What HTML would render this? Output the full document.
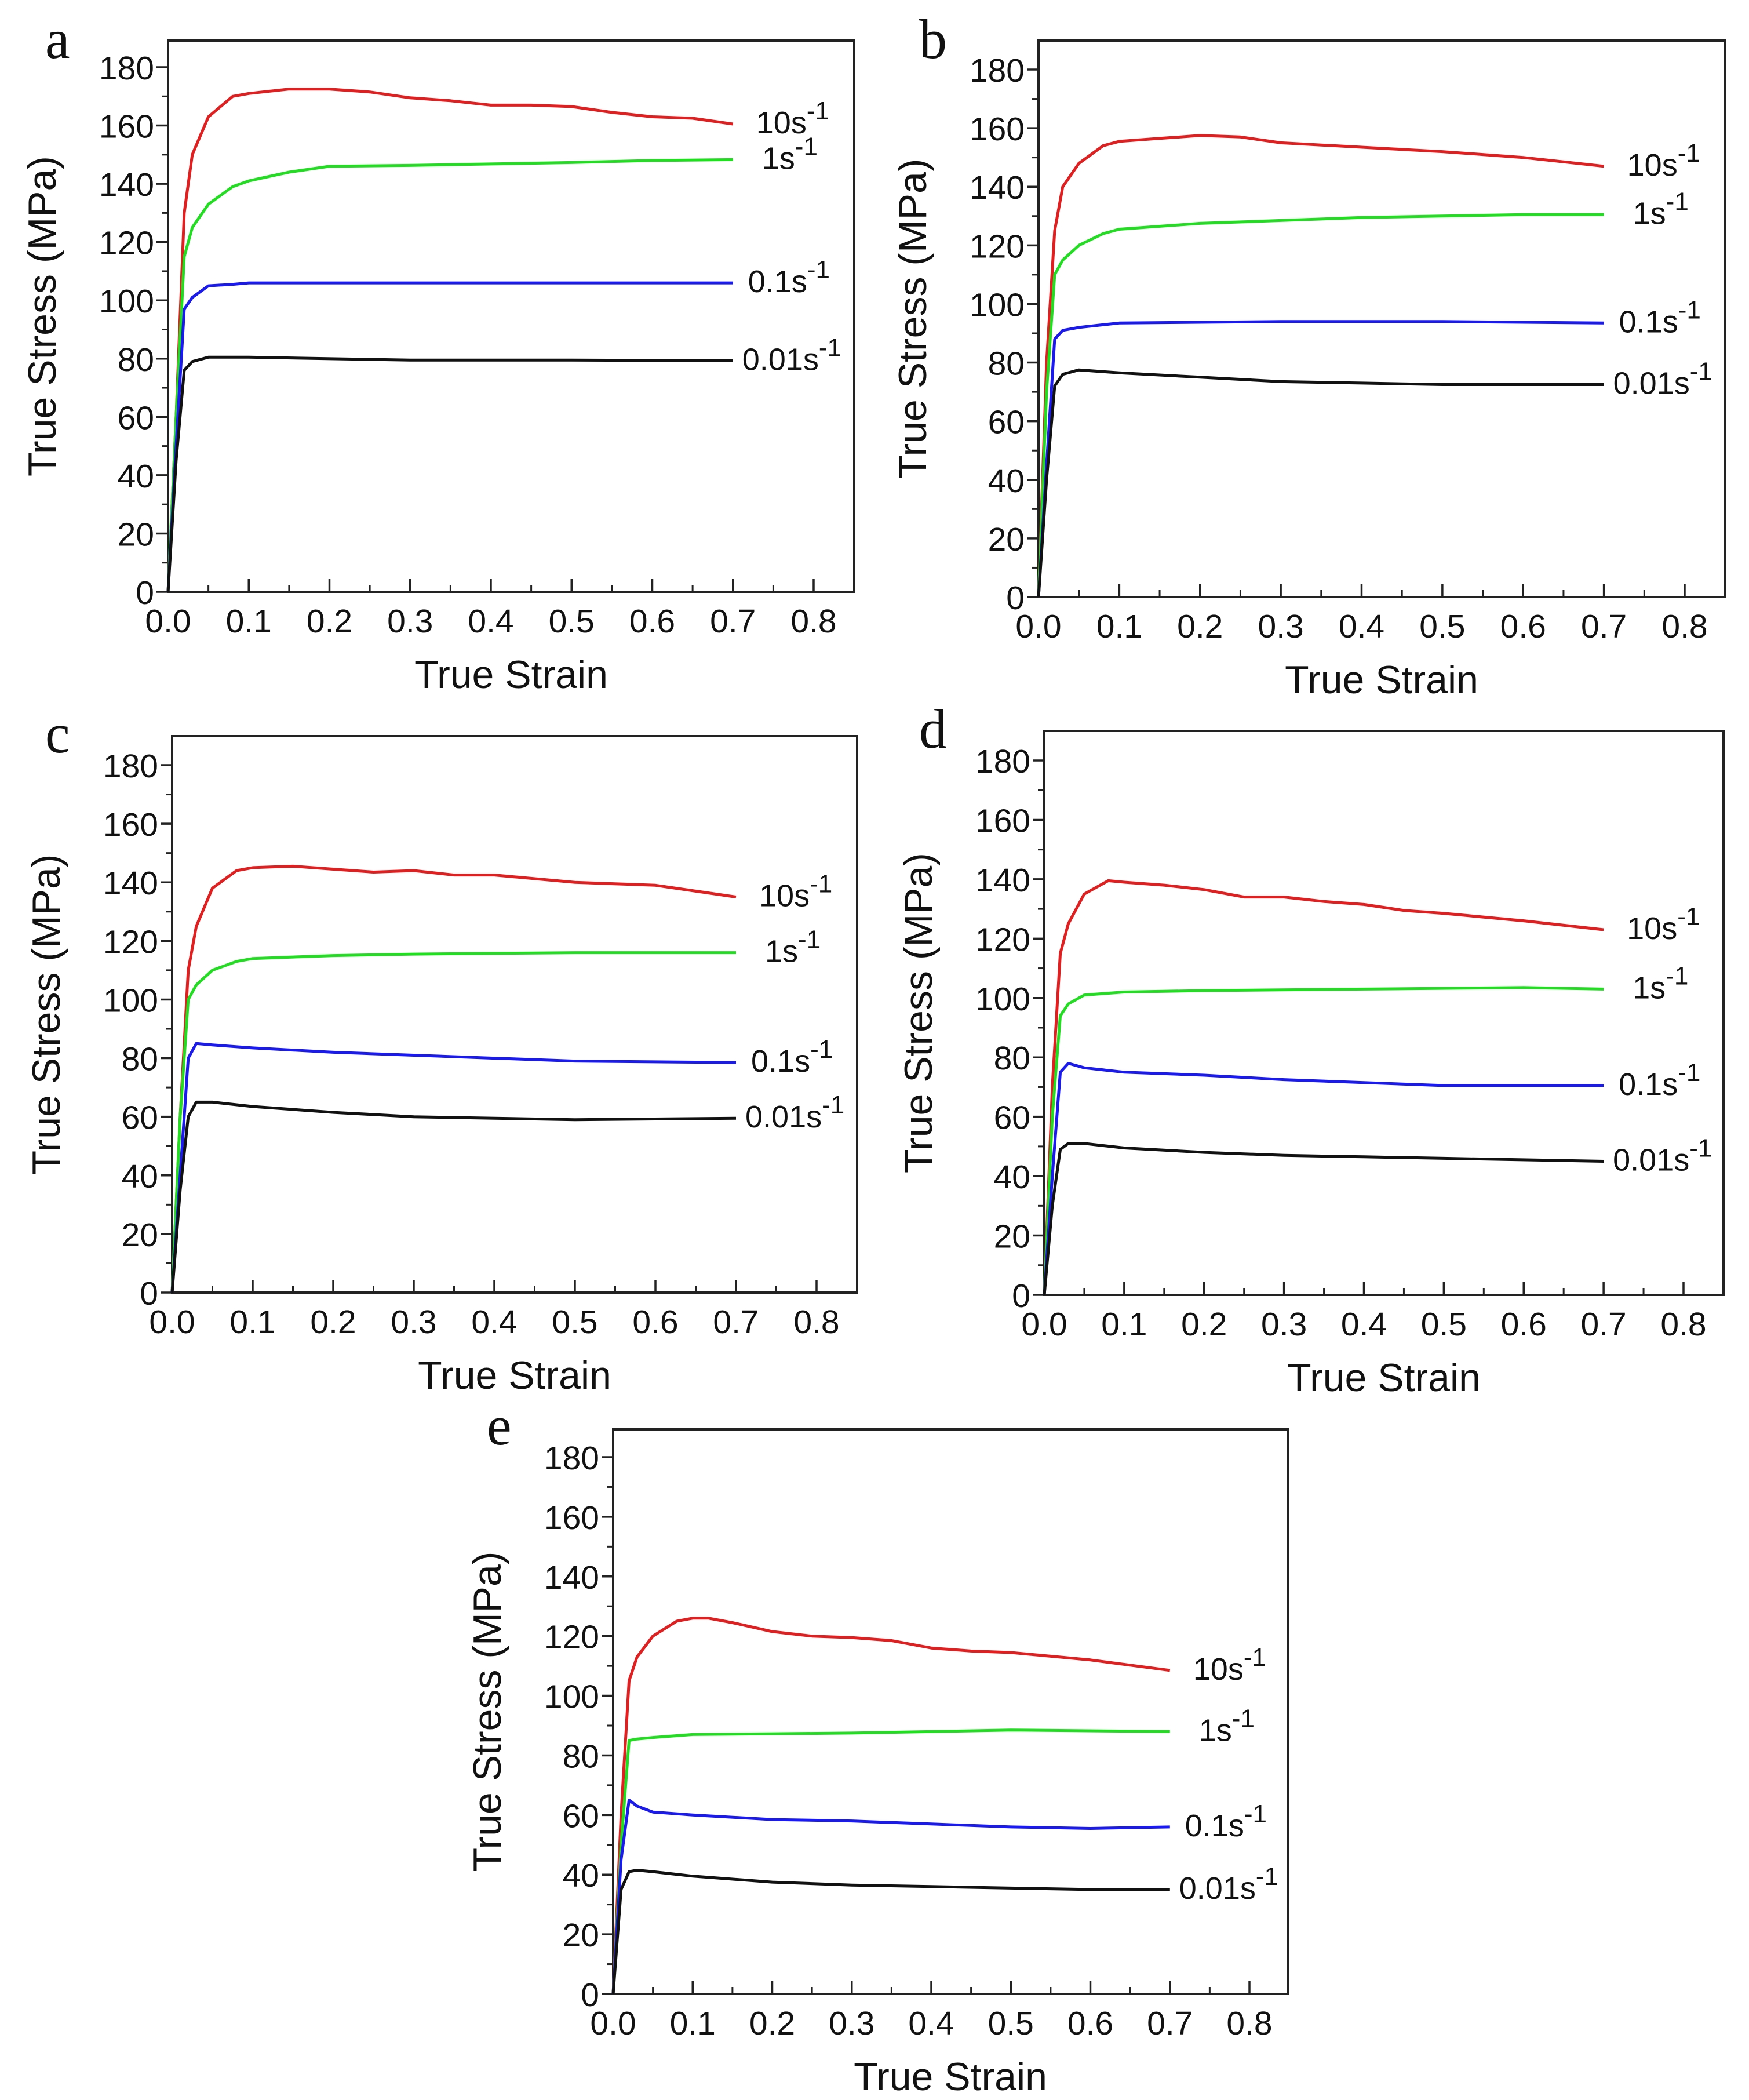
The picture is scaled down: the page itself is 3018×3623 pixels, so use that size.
<!DOCTYPE html>
<html><head><meta charset="utf-8"><title>True stress vs true strain at five deformation conditions</title>
<style>
html,body{margin:0;padding:0;background:#fff;}
svg{display:block;}
text{font-family:"Liberation Sans",Arial,sans-serif;fill:#111;}
.letter{font-family:"Liberation Serif","Times New Roman",serif;}
</style></head>
<body>
<svg id="fig" xmlns="http://www.w3.org/2000/svg" width="3018" height="3623" viewBox="0 0 3018 3623"></svg>
<script>
// ---- data ----
const rates = ["10", "1", "0.1", "0.01"];
const rateColors = ["#e02020", "#22dd22", "#1a1aee", "#111111"];
const xTicks = [0, 0.1, 0.2, 0.3, 0.4, 0.5, 0.6, 0.7, 0.8];
const xTickLabels = ["0.0","0.1","0.2","0.3","0.4","0.5","0.6","0.7","0.8"];
const yTicks = [0, 20, 40, 60, 80, 100, 120, 140, 160, 180];
const yTickLabels = ["0","20","40","60","80","100","120","140","160","180"];
const panelLetters = ["a","b","c","d","e"];

// panel a
const aStrain10 = [0,0.01,0.02,0.03,0.05,0.08,0.1,0.15,0.2,0.25,0.3,0.35,0.4,0.45,0.5,0.55,0.6,0.65,0.7];
const aStress10 = [0,60,130,150,163,170,171,172.5,172.5,171.5,169.5,168.5,167,167,166.5,164.5,163,162.5,160.5];
const aStrain1 = [0,0.01,0.02,0.03,0.05,0.08,0.1,0.15,0.2,0.3,0.4,0.5,0.6,0.7];
const aStress1 = [0,60,115,125,133,139,141,144,146,146.3,146.8,147.3,148,148.3];
const aStrain01 = [0,0.01,0.02,0.03,0.05,0.08,0.1,0.3,0.5,0.7];
const aStress01 = [0,50,97,101,105,105.5,106,106,106,106];
const aStrain001 = [0,0.01,0.02,0.03,0.05,0.1,0.3,0.5,0.7];
const aStress001 = [0,45,76,79,80.5,80.5,79.5,79.5,79.3];
// panel b
const bStrain10 = [0,0.01,0.02,0.03,0.05,0.08,0.1,0.15,0.2,0.25,0.3,0.4,0.5,0.6,0.7];
const bStress10 = [0,80,125,140,148,154,155.5,156.5,157.5,157,155,153.5,152,150,147];
const bStrain1 = [0,0.01,0.02,0.03,0.05,0.08,0.1,0.2,0.3,0.4,0.5,0.6,0.7];
const bStress1 = [0,70,110,115,120,124,125.5,127.5,128.5,129.5,130,130.5,130.5];
const bStrain01 = [0,0.01,0.02,0.03,0.05,0.1,0.3,0.5,0.7];
const bStress01 = [0,45,88,91,92,93.5,94,94,93.5];
const bStrain001 = [0,0.01,0.02,0.03,0.05,0.1,0.2,0.3,0.4,0.5,0.7];
const bStress001 = [0,40,72,76,77.5,76.5,75,73.5,73,72.5,72.5];
// panel c
const cStrain10 = [0,0.01,0.02,0.03,0.05,0.08,0.1,0.15,0.2,0.25,0.3,0.35,0.4,0.5,0.6,0.7];
const cStress10 = [0,60,110,125,138,144,145,145.5,144.5,143.5,144,142.5,142.5,140,139,135];
const cStrain1 = [0,0.01,0.02,0.03,0.05,0.08,0.1,0.2,0.3,0.5,0.7];
const cStress1 = [0,60,100,105,110,113,114,115,115.5,116,116];
const cStrain01 = [0,0.01,0.02,0.03,0.05,0.1,0.2,0.3,0.4,0.5,0.7];
const cStress01 = [0,40,80,85,84.5,83.5,82,81,80,79,78.5];
const cStrain001 = [0,0.01,0.02,0.03,0.05,0.1,0.2,0.3,0.4,0.5,0.7];
const cStress001 = [0,35,60,65,65,63.5,61.5,60,59.5,59,59.5];
// panel d
const dStrain10 = [0,0.01,0.02,0.03,0.05,0.08,0.1,0.15,0.2,0.25,0.3,0.35,0.4,0.45,0.5,0.6,0.7];
const dStress10 = [0,70,115,125,135,139.5,139,138,136.5,134,134,132.5,131.5,129.5,128.5,126,123];
const dStrain1 = [0,0.01,0.02,0.03,0.05,0.1,0.2,0.4,0.6,0.7];
const dStress1 = [0,60,94,98,101,102,102.5,103,103.5,103];
const dStrain01 = [0,0.01,0.02,0.03,0.05,0.1,0.2,0.3,0.4,0.5,0.7];
const dStress01 = [0,40,75,78,76.5,75,74,72.5,71.5,70.5,70.5];
const dStrain001 = [0,0.01,0.02,0.03,0.05,0.1,0.2,0.3,0.4,0.5,0.7];
const dStress001 = [0,30,49,51,51,49.5,48,47,46.5,46,45];
// panel e
const eStrain10 = [0,0.01,0.02,0.03,0.05,0.08,0.1,0.12,0.15,0.2,0.25,0.3,0.35,0.4,0.45,0.5,0.6,0.7];
const eStress10 = [0,60,105,113,120,125,126,126,124.5,121.5,120,119.5,118.5,116,115,114.5,112,108.5];
const eStrain1 = [0,0.01,0.02,0.03,0.05,0.1,0.3,0.5,0.7];
const eStress1 = [0,50,85,85.5,86,87,87.5,88.5,88];
const eStrain01 = [0,0.01,0.02,0.03,0.05,0.1,0.2,0.3,0.4,0.5,0.6,0.7];
const eStress01 = [0,45,65,63,61,60,58.5,58,57,56,55.5,56];
const eStrain001 = [0,0.01,0.02,0.03,0.05,0.1,0.2,0.3,0.4,0.5,0.6,0.7];
const eStress001 = [0,35,41,41.5,41,39.5,37.5,36.5,36,35.5,35,35];

const panelSeries = [
  [[aStrain10,aStress10],[aStrain1,aStress1],[aStrain01,aStress01],[aStrain001,aStress001]],
  [[bStrain10,bStress10],[bStrain1,bStress1],[bStrain01,bStress01],[bStrain001,bStress001]],
  [[cStrain10,cStress10],[cStrain1,cStress1],[cStrain01,cStress01],[cStrain001,cStress001]],
  [[dStrain10,dStress10],[dStrain1,dStress1],[dStrain01,dStress01],[dStrain001,dStress001]],
  [[eStrain10,eStress10],[eStrain1,eStress1],[eStrain01,eStress01],[eStrain001,eStress001]]
];

// ---- layout ----
const layout = [
  {x0:290, x8:1404, y0:1021, y180:116, top:70, right:1474},
  {x0:1792, x8:2907, y0:1030, y180:120, top:70, right:2976},
  {x0:297, x8:1409, y0:2230, y180:1320, top:1270, right:1479},
  {x0:1802, x8:2905, y0:2234, y180:1312, top:1261, right:2974},
  {x0:1058, x8:2156, y0:3440, y180:2514, top:2466, right:2222}
];
const labelDx = [40, 50, 26, 16];
const letterPos = [[78,100],[1586,100],[78,1298],[1586,1290],[840,2492]];

const NS = "http://www.w3.org/2000/svg";
const svg = document.getElementById("fig");
function mk(tag, attrs, parent){
  const e = document.createElementNS(NS, tag);
  for (const k in attrs) e.setAttribute(k, attrs[k]);
  (parent||svg).appendChild(e);
  return e;
}

layout.forEach((L, p) => {
  const g = mk("g", {});
  
  
  const xs = v => L.x0 + (v/0.8)*(L.x8 - L.x0);
  const ys = v => L.y0 - (v/180)*(L.y0 - L.y180);

  const frame = mk("rect", {x:L.x0, y:L.top, width:L.right-L.x0, height:L.y0-L.top, fill:"none", stroke:"#222", "stroke-width":4}, g);
  
  

  xTicks.forEach((t, i) => {
    const X = xs(t);
    const tk = mk("line", {x1:X, x2:X, y1:L.y0, y2:L.y0-22, stroke:"#222","stroke-width":3.5}, g);
    
    
    if (i < xTicks.length-1) {
      const Xm = xs(t + 0.05);
      const mt = mk("line", {x1:Xm, x2:Xm, y1:L.y0, y2:L.y0-12, stroke:"#222","stroke-width":3}, g);
      
      
    }
    const lb = mk("text", {x:X, y:L.y0+70, "font-size":57, "text-anchor":"middle"}, g);
    lb.textContent = xTickLabels[i];
    
    
  });
  yTicks.forEach((t, i) => {
    const Y = ys(t);
    const tk = mk("line", {x1:L.x0, x2:L.x0-20, y1:Y, y2:Y, stroke:"#222","stroke-width":3.5}, g);
    
    
    if (i < yTicks.length-1) {
      const Ym = ys(t + 10);
      const mt = mk("line", {x1:L.x0, x2:L.x0-11, y1:Ym, y2:Ym, stroke:"#222","stroke-width":3}, g);
      
      
    }
    const lb = mk("text", {x:L.x0-24, y:Y+21, "font-size":57, "text-anchor":"end"}, g);
    lb.textContent = yTickLabels[i];
    
    
  });
  const xt = mk("text", {x:(L.x0+L.right)/2, y:L.y0+166, "font-size":68, "text-anchor":"middle"}, g);
  xt.textContent = "True Strain";
  
  
  const cy = (L.top + L.y0)/2;
  const tx = L.x0 - 194;
  const yt = mk("text", {x:tx, y:cy, "font-size":68, "text-anchor":"middle", transform:`rotate(-90 ${tx} ${cy})`}, g);
  yt.textContent = "True Stress (MPa)";
  
  
  const lt = mk("text", {x:letterPos[p][0], y:letterPos[p][1], "font-size":96, "class":"letter"}, g);
  lt.textContent = panelLetters[p];
  
  

  panelSeries[p].forEach((s, k) => {
    const [sx, sy] = s;
    const d = sx.map((v, i) => (i ? "L" : "M") + xs(v).toFixed(1) + " " + ys(sy[i]).toFixed(1)).join(" ");
    const path = mk("path", {d:d, fill:"none", stroke:rateColors[k], "stroke-width":5, "stroke-linejoin":"round"}, g);
    
    
    const endX = xs(sx[sx.length-1]), endY = ys(sy[sy.length-1]);
    const lab = mk("text", {x:endX + labelDx[k], y:endY + 16, "font-size":54}, g);
    
    
    lab.appendChild(document.createTextNode(rates[k] + "s"));
    const sup = document.createElementNS(NS, "tspan");
    sup.setAttribute("dy", "-24");
    sup.setAttribute("font-size", "44");
    sup.textContent = "-1";
    lab.appendChild(sup);
  });
});
</script>
</body></html>
